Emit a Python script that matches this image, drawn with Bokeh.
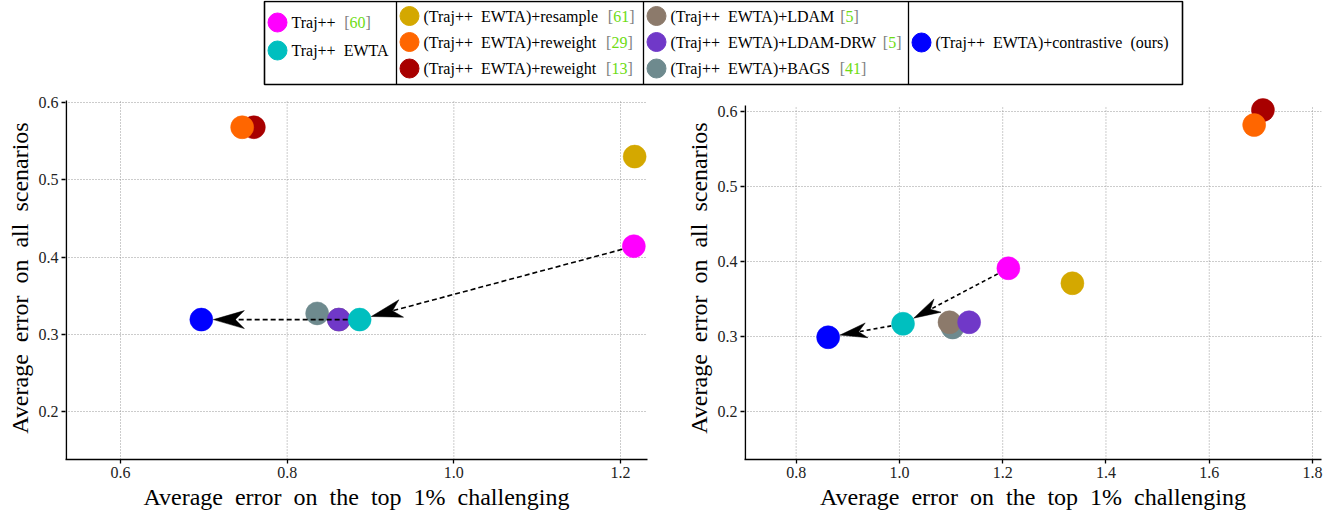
import re
import math
from bokeh.plotting import figure
from bokeh.layouts import column, row
from bokeh.models import Range1d, FixedTicker, PrintfTickFormatter
from bokeh.core.properties import value
from bokeh.embed import file_html
from bokeh.resources import INLINE

# ---------------- data ----------------
labels = [
    "Traj++  [60]",
    "Traj++  EWTA",
    "(Traj++  EWTA)+resample  [61]",
    "(Traj++  EWTA)+reweight  [29]",
    "(Traj++  EWTA)+reweight  [13]",
    "(Traj++  EWTA)+LDAM [5]",
    "(Traj++  EWTA)+LDAM-DRW [5]",
    "(Traj++  EWTA)+BAGS  [41]",
    "(Traj++  EWTA)+contrastive  (ours)",
]
colors = ["#FF00FF", "#00BFBF", "#D4A800", "#FF6600", "#A80000",
          "#8C7A6B", "#7038C8", "#6E8A8E", "#0000FF"]

left_x = [1.216, 0.887, 1.217, 0.746, 0.760, 0.862, 0.862, 0.836, 0.697]
left_y = [0.414, 0.319, 0.530, 0.568, 0.568, 0.319, 0.319, 0.327, 0.319]

right_x = [1.211, 1.007, 1.335, 1.687, 1.704, 1.097, 1.135, 1.103, 0.862]
right_y = [0.391, 0.317, 0.371, 0.582, 0.602, 0.319, 0.319, 0.312, 0.299]

left_xticks = [0.6, 0.8, 1.0, 1.2]
right_xticks = [0.8, 1.0, 1.2, 1.4, 1.6, 1.8]
yticks = [0.2, 0.3, 0.4, 0.5, 0.6]

# arrows: (from index, to index)
arrow_pairs = [(0, 1), (1, 8)]

x_title = "Average  error  on  the  top  1%  challenging"
y_title = "Average  error  on  all  scenarios"

# ---------------- style / layout ----------------
FONT = "Liberation Serif"
MARKER = 23
draw_order = [4, 3, 2, 7, 5, 6, 1, 0, 8]
legend_columns = [[0, 1], [2, 3, 4], [5, 6, 7], [8]]
legend_col_left = [264, 396, 643, 908]
legend_box = (264, 1182, 1, 84)
legend_rows = {1: [42], 2: [22, 50], 3: [15.5, 41.5, 68]}
GREEN = "#6EDC14"
BRACKET = "#808080"
GRID_COLOR = "#999999"
GRID_DASH = "1 2"

# Times / Liberation Serif advance widths (per 1000 em)
TW = {' ': 250, '\u00a0': 250, '(': 333, ')': 333, '+': 564, '-': 333, '[': 333, ']': 333,
      '%': 833, 'A': 722, 'B': 667, 'D': 722, 'E': 611, 'G': 722, 'L': 611, 'M': 889,
      'R': 667, 'S': 556, 'T': 611, 'W': 944, 'a': 444, 'c': 444, 'e': 444, 'g': 500,
      'h': 500, 'i': 278, 'j': 278, 'l': 278, 'm': 778, 'n': 500, 'o': 500, 'p': 500,
      'r': 333, 's': 389, 't': 278, 'u': 500, 'v': 500, 'w': 722}


def tw(s, size):
    return sum(TW.get(c, 500) for c in s) * size / 1000.0


def nb(s):
    return s.replace("  ", " \u00a0")


def style_axes(p, xticks):
    p.outline_line_color = None
    p.xaxis.ticker = FixedTicker(ticks=xticks)
    p.yaxis.ticker = FixedTicker(ticks=yticks)
    p.xaxis.formatter = PrintfTickFormatter(format="%.1f")
    p.yaxis.formatter = PrintfTickFormatter(format="%.1f")
    for ax in (p.xaxis[0], p.yaxis[0]):
        ax.axis_line_color = "black"
        ax.axis_line_width = 1.6
        ax.major_tick_line_color = "black"
        ax.major_tick_line_width = 1.3
        ax.major_tick_in = 0
        ax.major_tick_out = 4
        ax.minor_tick_line_color = None
        ax.major_label_text_font = FONT
        ax.major_label_text_font_size = "16px"
        ax.major_label_text_color = "#222222"
        ax.axis_label_text_font = FONT
        ax.axis_label_text_font_size = "24px"
        ax.axis_label_text_font_style = "normal"
        ax.axis_label_text_color = "black"
        ax.major_label_standoff = 3
        ax.axis_label_standoff = 3
    p.yaxis.axis_line_color = None
    p.xaxis.axis_label = nb(x_title)
    p.yaxis.axis_label = nb(y_title)
    p.xgrid.visible = False
    p.ygrid.grid_line_color = GRID_COLOR
    p.ygrid.grid_line_dash = GRID_DASH
    p.ygrid.grid_line_width = 1


def add_arrows(p, xs, ys, xr, yr, fw, fh, hl, hw, notch, dash):
    sx = fw / (xr[1] - xr[0])
    sy = fh / (yr[1] - yr[0])
    r = MARKER / 2.0 + 0.5
    for a, b in arrow_pairs:
        dx = (xs[b] - xs[a]) * sx
        dy = (ys[b] - ys[a]) * sy
        L = math.hypot(dx, dy)
        ux, uy = dx / L, dy / L
        nx, ny = -uy, ux

        def d(px, py):
            return xs[a] + px / sx, ys[a] + py / sy
        tail = d(ux * r, uy * r)
        tx, ty = dx - ux * r, dy - uy * r
        lend = d(tx - ux * notch * 0.9, ty - uy * notch * 0.9)
        p.line([tail[0], lend[0]], [tail[1], lend[1]], line_color="black",
               line_width=1.6, line_dash=dash)
        pts = [(tx, ty),
               (tx - ux * hl + nx * hw, ty - uy * hl + ny * hw),
               (tx - ux * notch, ty - uy * notch),
               (tx - ux * hl - nx * hw, ty - uy * hl - ny * hw)]
        dp = [d(px, py) for px, py in pts]
        p.patch([q[0] for q in dp], [q[1] for q in dp], fill_color="black",
                line_color="black", line_width=0.5)


def make_panel(xs, ys, xr, yr, ytop, w, h, bl, br, bt, bb, xticks, hl, hw, notch, dash):
    p = figure(width=w, height=h, x_range=Range1d(*xr), y_range=Range1d(*yr),
               output_backend="svg", toolbar_location=None,
               min_border_left=bl, min_border_right=br, min_border_top=bt,
               min_border_bottom=bb)
    style_axes(p, xticks)
    fw = w - bl - br
    fh = h - bt - bb
    sx = fw / (xr[1] - xr[0])
    # vertical grid lines stopping at the top of the spine
    p.segment(x0=xticks, y0=[yr[0]] * len(xticks), x1=xticks, y1=[ytop] * len(xticks),
              line_color=GRID_COLOR, line_dash=GRID_DASH, line_width=1)
    for i in draw_order:
        p.scatter([xs[i]], [ys[i]], size=MARKER, fill_color=colors[i],
                  line_color=colors[i], line_width=0.5)
    add_arrows(p, xs, ys, xr, yr, fw, fh, hl, hw, notch, dash)
    # left spine (shorter than the frame)
    xsp = xr[0] + 0.8 / sx
    p.line([xsp, xsp], [yr[0], ytop], line_color="black", line_width=1.6)
    return p


left = make_panel(left_x, left_y, (0.534, 1.2324), (0.1379, 0.6078), 0.6026,
                  667, 425, 65, 20, 8, 54, left_xticks, 31, 9, 22, "5 3")
right = make_panel(right_x, right_y, (0.700, 1.8174), (0.136, 0.620), 0.608,
                   668, 425, 77, 14, 8, 54, right_xticks, 27, 7.5, 19, "4 3")

# ---------------- legend ----------------
LW, LH = 1335, 88
leg = figure(width=LW, height=LH, x_range=Range1d(0, LW), y_range=Range1d(LH, 0),
             output_backend="svg", toolbar_location=None, x_axis_type=None,
             y_axis_type=None, min_border=0)
leg.outline_line_color = None
leg.grid.visible = False
bx0, bx1, by0, by1 = legend_box
leg.quad(left=[bx0], right=[bx1], top=[by0], bottom=[by1], fill_color=None,
         line_color="black", line_width=1.6)
leg.segment(x0=legend_col_left[1:], y0=[by0] * 3, x1=legend_col_left[1:], y1=[by1] * 3,
            line_color="black", line_width=1.3)
LFS = 16
for ci, col in enumerate(legend_columns):
    ys_rows = legend_rows[len(col)]
    for ri, idx in enumerate(col):
        cy = ys_rows[ri]
        cx = legend_col_left[ci] + 13
        tx = legend_col_left[ci] + 27
        leg.scatter([cx], [cy], size=19, fill_color=colors[idx], line_color=colors[idx])
        lab = labels[idx]
        m = re.match(r"^(.*?)(\s*)\[(\d+)\]$", lab)
        if m:
            main, sep, num = m.group(1), m.group(2), m.group(3)
            leg.text([tx], [cy], text=[nb(main)], text_font=value(FONT),
                     text_font_size=f"{LFS}px", text_baseline="middle", text_color="black")
            x1 = tx + tw(main + sep, LFS)
            leg.text([x1], [cy], text=["["], text_font=value(FONT),
                     text_font_size=f"{LFS}px", text_baseline="middle", text_color=BRACKET)
            x2 = x1 + tw("[", LFS)
            leg.text([x2], [cy], text=[num], text_font=value(FONT),
                     text_font_size=f"{LFS}px", text_baseline="middle", text_color=GREEN)
            x3 = x2 + tw(num, LFS)
            leg.text([x3], [cy], text=["]"], text_font=value(FONT),
                     text_font_size=f"{LFS}px", text_baseline="middle", text_color=BRACKET)
        else:
            leg.text([tx], [cy], text=[nb(lab)], text_font=value(FONT),
                     text_font_size=f"{LFS}px", text_baseline="middle", text_color="black")

layout = column(leg, row(left, right, spacing=0), spacing=0)

open("out.html", "w").write(file_html(layout, INLINE))
